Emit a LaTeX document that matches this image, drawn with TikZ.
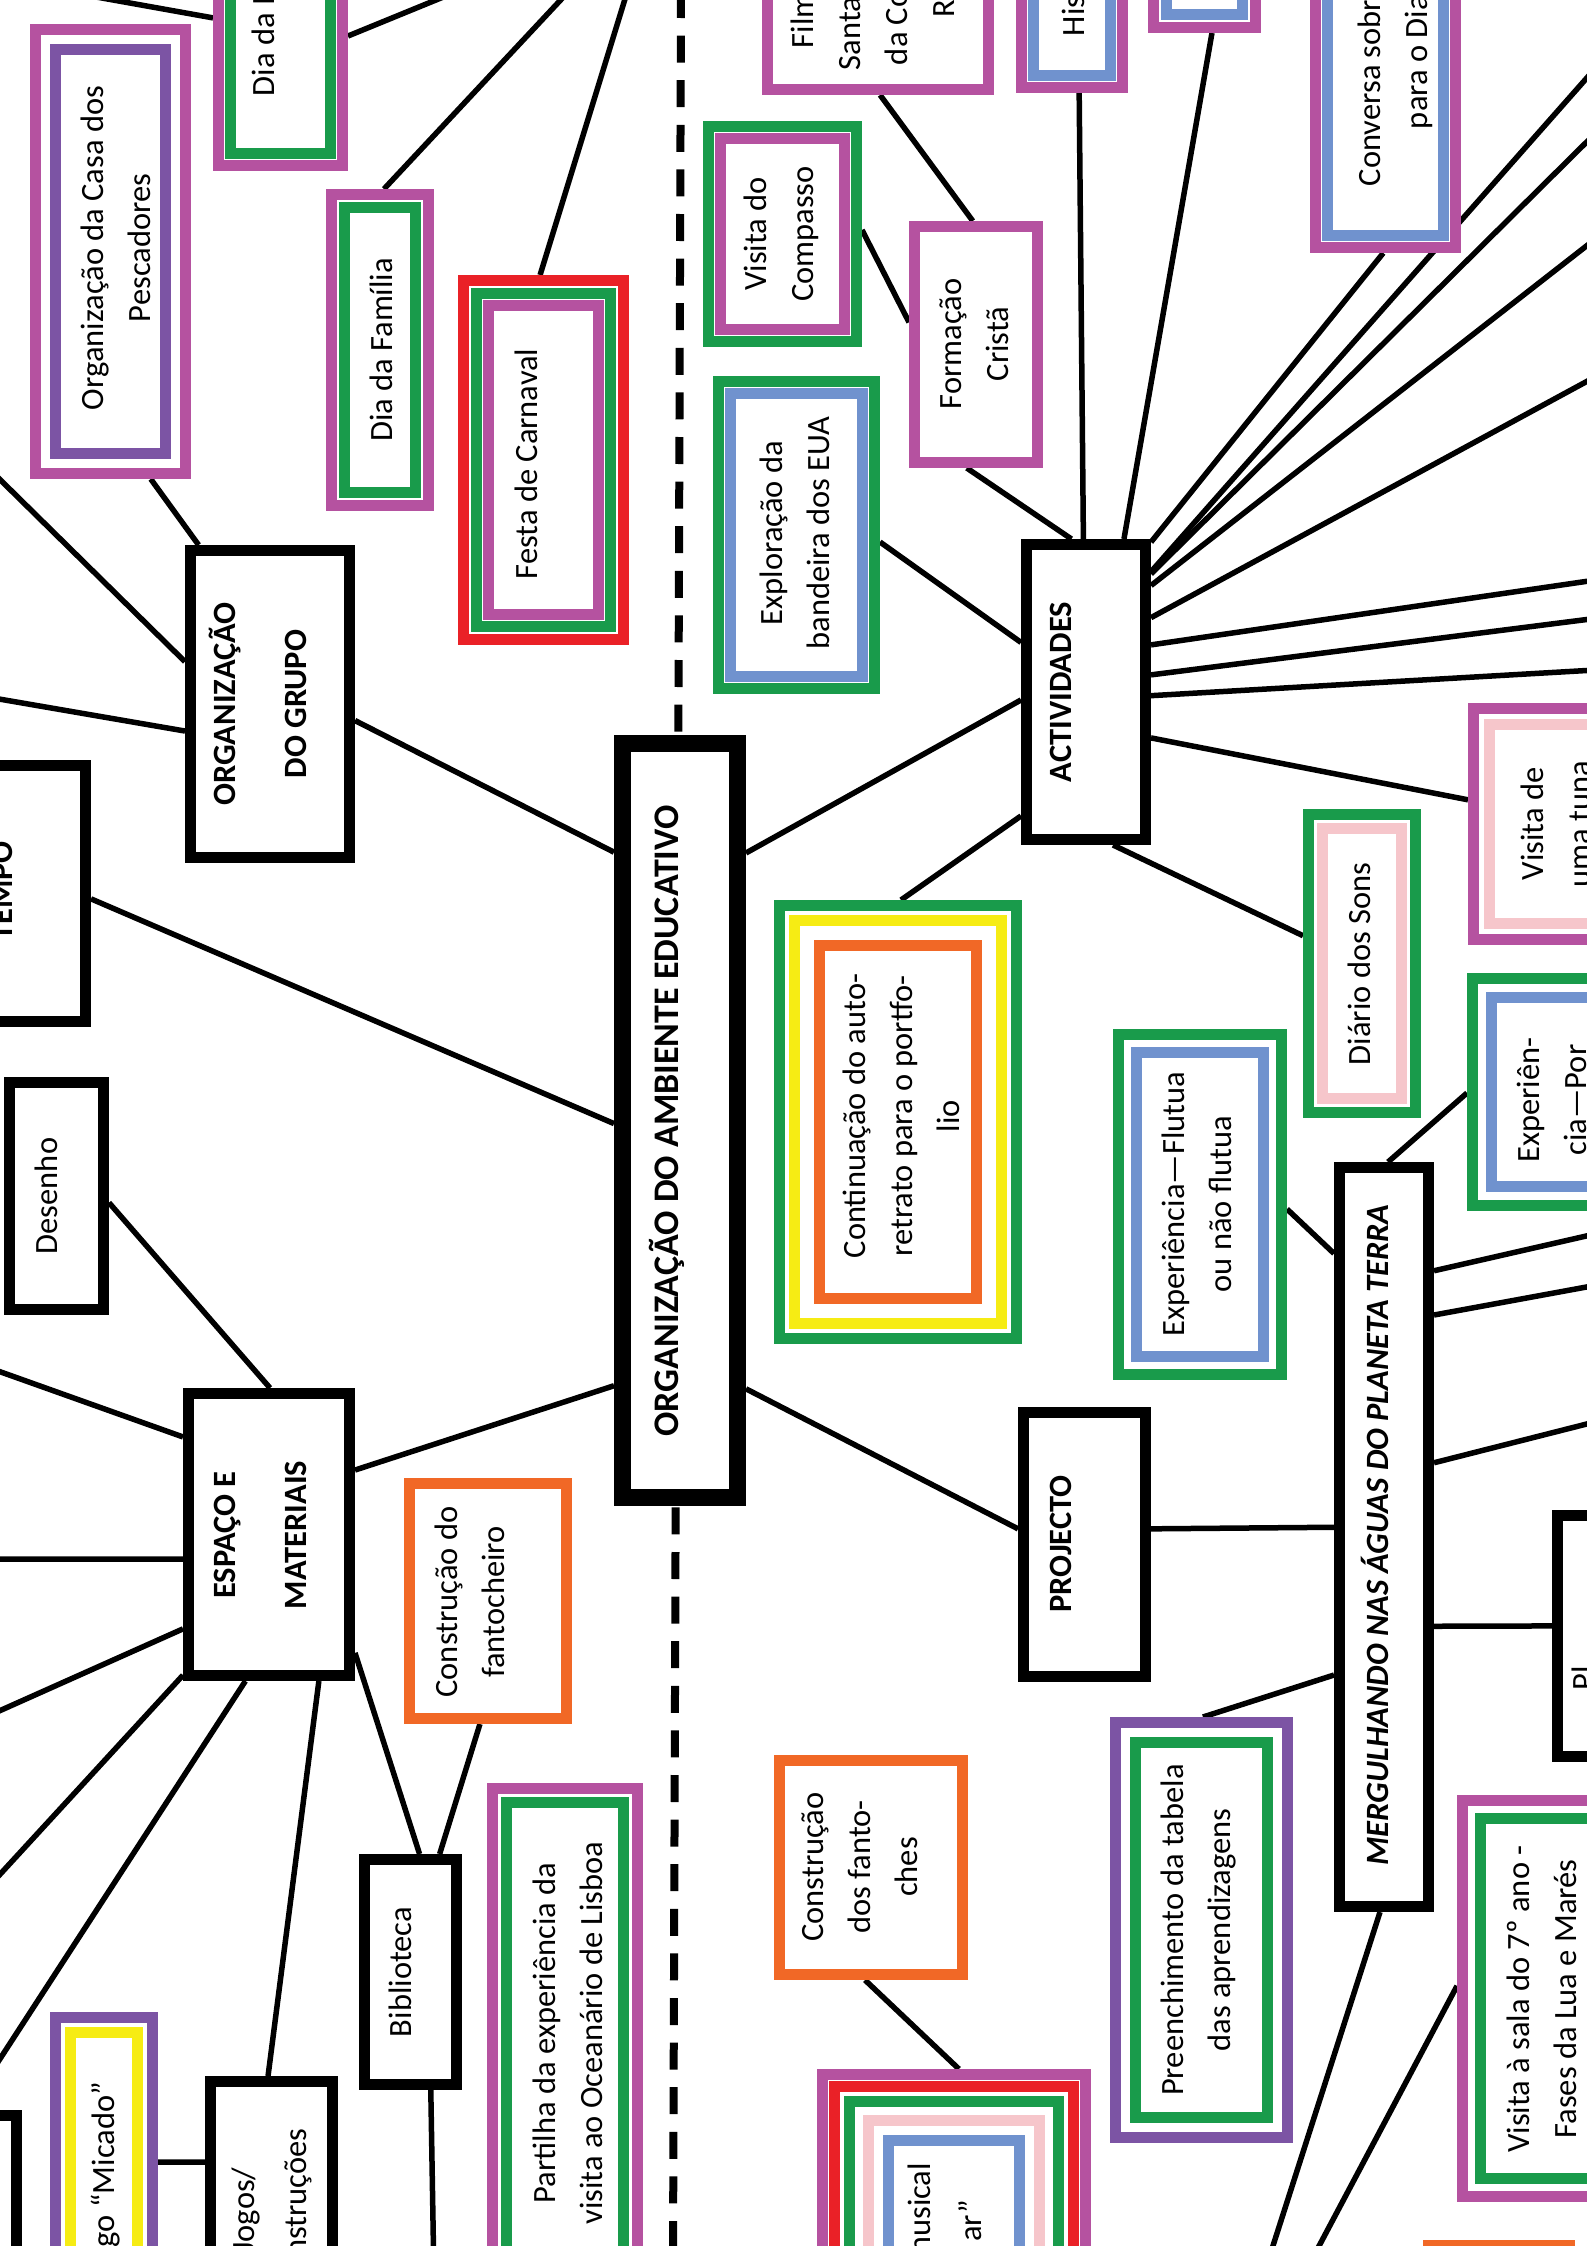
\documentclass[tikz,border=0pt]{standalone}
\usepackage{fontspec}
\setmainfont{Carlito}
\usepackage{graphicx}
\usetikzlibrary{calc}
\definecolor{cmag}{RGB}{181,82,160}
\definecolor{cpur}{RGB}{124,84,164}
\definecolor{cgrn}{RGB}{25,155,75}
\definecolor{cblu}{RGB}{112,146,206}
\definecolor{cpnk}{RGB}{246,198,203}
\definecolor{corg}{RGB}{241,104,38}
\definecolor{cred}{RGB}{234,33,39}
\definecolor{cyel}{RGB}{246,236,20}
\pgfdeclarelayer{bg}
\pgfsetlayers{bg,main}
\tikzset{
  frm/.style={rectangle, draw=none, fill=white, inner sep=0pt, outer sep=0pt},
  lbl/.style={inner sep=0pt, outer sep=0pt, font=\fontsize{32.5}{47}\selectfont},
  lblb/.style={lbl, font=\fontsize{32.5}{47}\selectfont\bfseries},
  lblbi/.style={lbl, font=\fontsize{32.5}{47}\selectfont\bfseries\itshape},
  lblc/.style={lbl, font=\fontsize{36}{47}\selectfont\bfseries},
  conn/.style={draw=black, line width=5.5pt},
  divider/.style={draw=black, line width=8pt, dash pattern=on 27pt off 17.6pt},
}
\newcommand{\RT}[1]{\rotatebox{90}{\begin{tabular}{@{}c@{}}#1\end{tabular}}}
\newcommand{\RTL}[1]{\rotatebox{90}{\begin{tabular}{@{}l@{}}#1\end{tabular}}}
\newcommand{\RTR}[1]{\rotatebox{90}{\begin{tabular}{@{}r@{}}#1\end{tabular}}}
\newcommand{\Frame}[5]{\node[frm, minimum width={(#4)-(#2)}, minimum height={(#5)-(#3)}] (#1) at ({((#2)+(#4))/2},{((#3)+(#5))/2}) {};}
\newcommand{\Ring}[4]{\draw[draw=#2, line width=#4pt] ([xshift={(#3)+(#4)/2}, yshift={-(#3)-(#4)/2}]#1.north west) rectangle ([xshift={-(#3)-(#4)/2}, yshift={(#3)+(#4)/2}]#1.south east);}
\begin{document}
\begin{tikzpicture}[x=1pt, y=-1pt]
\useasboundingbox (0,0) rectangle (1587,2246);
\clip (0,0) rectangle (1587,2246);

% ---------- frames, left half
\Frame{casa}{30}{24}{191}{479}\Ring{casa}{cmag}{0}{11}\Ring{casa}{cpur}{20}{11}
\Frame{diaM}{213}{-131}{348}{171}\Ring{diaM}{cmag}{0}{11}\Ring{diaM}{cgrn}{12}{11}
\Frame{diaF}{326}{189}{434}{511}\Ring{diaF}{cmag}{0}{11}\Ring{diaF}{cgrn}{13}{11}
\Frame{festa}{458}{275}{629}{645}\Ring{festa}{cred}{0}{11}\Ring{festa}{cgrn}{13}{11}\Ring{festa}{cmag}{25}{11}
\Frame{orggrupo}{185}{545}{355}{863}\Ring{orggrupo}{black}{0}{11}
\Frame{tempo}{-82}{760}{91}{1027}\Ring{tempo}{black}{0}{11}
\Frame{desenho}{4}{1077}{109}{1315}\Ring{desenho}{black}{0}{11}
\Frame{espaco}{183}{1388}{355}{1681}\Ring{espaco}{black}{0}{11}
\Frame{fantocheiro}{404}{1478}{572}{1724}\Ring{fantocheiro}{corg}{0}{11}
\Frame{biblioteca}{359}{1854}{462}{2090}\Ring{biblioteca}{black}{0}{11}
\Frame{partilha}{487}{1783}{643}{2283}\Ring{partilha}{cmag}{0}{11}\Ring{partilha}{cgrn}{14}{11}
\Frame{micado}{50}{2012}{158}{2344}\Ring{micado}{cpur}{0}{11}\Ring{micado}{cyel}{15}{11}
\Frame{jogos}{205}{2076}{338}{2344}\Ring{jogos}{black}{0}{11}
\Frame{leftbox}{-100}{2110}{22}{2400}\Ring{leftbox}{black}{0}{11}
\Frame{center}{614}{735}{746}{1506}\Ring{center}{black}{0}{17}

% ---------- frames, right half
\Frame{film}{762}{-150}{994}{95}\Ring{film}{cmag}{0}{11}
\Frame{his}{1016}{-100}{1128}{93}\Ring{his}{cmag}{0}{11}\Ring{his}{cblu}{12}{11}
\Frame{box3}{1148}{-100}{1261}{33}\Ring{box3}{cmag}{0}{11}\Ring{box3}{cblu}{13}{11}
\Frame{conversa}{1310}{-150}{1461}{253}\Ring{conversa}{cmag}{0}{11}\Ring{conversa}{cblu}{12}{11}
\Frame{compasso}{703}{121}{862}{347}\Ring{compasso}{cgrn}{0}{11}\Ring{compasso}{cmag}{12}{11}
\Frame{formacao}{909}{221}{1043}{468}\Ring{formacao}{cmag}{0}{11}
\Frame{exploracao}{713}{376}{880}{694}\Ring{exploracao}{cgrn}{0}{11}\Ring{exploracao}{cblu}{12}{11}
\Frame{act}{1021}{539}{1151}{845}\Ring{act}{black}{0}{11}
\Frame{tuna}{1468}{703}{1660}{945}\Ring{tuna}{cmag}{0}{11}\Ring{tuna}{cpnk}{16}{11}
\Frame{diario}{1303}{809}{1421}{1118}\Ring{diario}{cgrn}{0}{11}\Ring{diario}{cpnk}{14}{11}
\Frame{continuacao}{774}{900}{1022}{1344}\Ring{continuacao}{cgrn}{0}{11}\Ring{continuacao}{cyel}{15}{11}\Ring{continuacao}{corg}{40}{11}
\Frame{flutua}{1113}{1029}{1287}{1380}\Ring{flutua}{cgrn}{0}{11}\Ring{flutua}{cblu}{18}{11}
\Frame{experien}{1467}{973}{1660}{1211}\Ring{experien}{cgrn}{0}{11}\Ring{experien}{cblu}{19}{11}
\Frame{merg}{1334}{1162}{1434}{1912}\Ring{merg}{black}{0}{11}
\Frame{projecto}{1018}{1407}{1151}{1682}\Ring{projecto}{black}{0}{11}
\Frame{pl}{1552}{1510}{1720}{1762}\Ring{pl}{black}{0}{11}
\Frame{preench}{1110}{1717}{1293}{2143}\Ring{preench}{cpur}{0}{11}\Ring{preench}{cgrn}{20}{11}
\Frame{fantoches}{774}{1755}{968}{1980}\Ring{fantoches}{corg}{0}{11}
\Frame{musical}{817}{2069}{1091}{2500}\Ring{musical}{cmag}{0}{11}\Ring{musical}{cred}{12}{11}\Ring{musical}{cgrn}{27}{11}\Ring{musical}{cpnk}{46}{11}\Ring{musical}{cblu}{66}{11}
\Frame{visita7}{1457}{1795}{1700}{2202}\Ring{visita7}{cmag}{0}{11}\Ring{visita7}{cgrn}{18}{11}
\Frame{orangebr}{1423}{2240}{1575}{2400}\Ring{orangebr}{corg}{0}{11}

% ---------- texts
\node[lbl] (casa-t) at (118,248) {\RT{Organização da Casa dos\\Pescadores}};
\node[lbl, anchor=south] (diaM-t) at (265.5,96) {\RTL{Dia da M}};
\node[lbl] (diaF-t) at (383,350) {\RT{Dia da Família}};
\node[lbl] (festa-t) at (528,464) {\RT{Festa de Carnaval}};
\node[lblb] (orggrupo-t) at (262,704) {\RT{ORGANIZAÇÃO\\[24pt]DO GRUPO}};
\node[lblb] (tempo-t) at (3,891) {\RT{TEMPO}};
\node[lbl] (desenho-t) at (48,1196) {\RT{Desenho}};
\node[lblb] (espaco-t) at (262,1535) {\RT{ESPAÇO E\\[24pt]MATERIAIS}};
\node[lbl] (fantocheiro-t) at (472,1602) {\RT{Construção do\\fantocheiro}};
\node[lbl] (biblioteca-t) at (402,1972) {\RT{Biblioteca}};
\node[lbl] (partilha-t) at (570,2033) {\RT{Partilha da experiência da\\visita ao Oceanário de Lisboa}};
\node[lbl, anchor=north] (micado-t) at (105,2082) {\RTR{Jogo “Micado”}};
\node[lbl] (jogos-t) at (271,2210) {\RT{Jogos/\\[5pt]Construções}};
\node[lblc] (center-t) at (669,1121) {\RT{ORGANIZAÇÃO DO AMBIENTE EDUCATIVO}};

\node[lbl, anchor=south] (film-t) at (875,70) {\RTL{\hspace*{22pt}Film\\Santa\\ \hspace*{5pt}da Co\\ \hspace*{53pt}R}};
\node[lbl, anchor=south] (his-t) at (1075,36) {\RTL{His}};
\node[lbl, anchor=south] (conversa-t) at (1395,186) {\RTL{Conversa sobre\\ \hspace*{57pt}para o Dia}};
\node[lbl] (compasso-t) at (781,234) {\RT{Visita do\\Compasso}};
\node[lbl] (formacao-t) at (976,344) {\RT{Formação\\Cristã}};
\node[lbl] (exploracao-t) at (797,533) {\RT{Exploração da\\bandeira dos EUA}};
\node[lblb] (act-t) at (1062,692) {\RT{ACTIVIDADES}};
\node[lbl] (tuna-t) at (1558,824) {\RT{Visita de\\uma tuna}};
\node[lbl] (diario-t) at (1361,964) {\RT{Diário dos Sons}};
\node[lbl] (continuacao-t) at (903,1116) {\RT{Continuação do auto-\\retrato para o portfo-\\lio}};
\node[lbl] (flutua-t) at (1199,1204) {\RT{Experiência—Flutua\\ou não flutua}};
\node[lbl] (experien-t) at (1554,1100) {\RT{Experiên-\\cia—Por}};
\node[lblbi] (merg-t) at (1379,1535) {\RT{MERGULHANDO NAS ÁGUAS DO PLANETA TERRA}};
\node[lblb] (projecto-t) at (1062,1544) {\RT{PROJECTO}};
\node[lbl, anchor=south] (pl-t) at (1585,1690) {\RTL{Pl}};
\node[lbl] (preench-t) at (1198,1930) {\RT{Preenchimento da tabela\\das aprendizagens}};
\node[lbl] (fantoches-t) at (861,1867) {\RT{Construção\\dos fanto-\\ches}};
\node[lbl, anchor=north] (musical-t) at (947,2163) {\RTR{musical\\[4pt]ar”\hspace*{37pt}}};
\node[lbl] (visita7-t) at (1544,1999) {\RT{Visita à sala do 7º ano -\\Fases da Lua e Marés}};

% ---------- off-page ends
\coordinate (divtop) at (681,-9);
\coordinate (divbot) at (673,2260);
\coordinate (o1) at (60,-9.5);
\coordinate (o2) at (480,-18);
\coordinate (o3) at (598,-40);
\coordinate (o4) at (637,-40);
\coordinate (o6) at (-30,450);
\coordinate (o7) at (-30,694);
\coordinate (o11) at (-30,1361);
\coordinate (o13) at (-30,1559);
\coordinate (o14) at (-30,1724);
\coordinate (o15) at (-30,1907);
\coordinate (o16) at (-30,2105);
\coordinate (o20) at (434,2280);
\coordinate (o30) at (1630,29);
\coordinate (o31) at (1630,99);
\coordinate (o32) at (1630,212);
\coordinate (o33) at (1630,358);
\coordinate (o34) at (1630,575);
\coordinate (o35) at (1630,614);
\coordinate (o36) at (1630,668);
\coordinate (o44) at (1630,1226);
\coordinate (o45) at (1630,1279);
\coordinate (o46) at (1630,1413);
\coordinate (o49) at (1262,2280);
\coordinate (o50) at (1301,2280);

% ---------- connectors (behind the boxes)
\begin{pgfonlayer}{bg}
\clip (0,0) rectangle (1587,2246);
\draw[divider] (divtop) -- (divbot);
\draw[conn] (o1) -- ($(diaM.north west)!0.493!(diaM.south west)$);
\draw[conn] ($(diaM.north east)!0.553!(diaM.south east)$) -- (o2);
\draw[conn] ($(diaF.north west)!0.537!(diaF.north east)$) -- (o3);
\draw[conn] ($(festa.north west)!0.48!(festa.north east)$) -- (o4);
\draw[conn] ($(casa.south west)!0.75!(casa.south east)$) -- ($(orggrupo.north west)!0.08!(orggrupo.north east)$);
\draw[conn] (o6) -- ($(orggrupo.north west)!0.367!(orggrupo.south west)$);
\draw[conn] (o7) -- ($(orggrupo.north west)!0.585!(orggrupo.south west)$);
\draw[conn] ($(orggrupo.north east)!0.552!(orggrupo.south east)$) -- ($(center.north west)!0.152!(center.south west)$);
\draw[conn] ($(tempo.north east)!0.52!(tempo.south east)$) -- ($(center.north west)!0.504!(center.south west)$);
\draw[conn] ($(desenho.north east)!0.528!(desenho.south east)$) -- ($(espaco.north west)!0.506!(espaco.north east)$);
\draw[conn] (o11) -- ($(espaco.north west)!0.167!(espaco.south west)$);
\draw[conn] ($(espaco.north east)!0.28!(espaco.south east)$) -- ($(center.north west)!0.844!(center.south west)$);
\draw[conn] ($(espaco.north west)!0.584!(espaco.south west)$) -- (o13);
\draw[conn] ($(espaco.north west)!0.822!(espaco.south west)$) -- (o14);
\draw[conn] ($(espaco.north west)!0.98!(espaco.south west)$) -- (o15);
\draw[conn] ($(espaco.south west)!0.363!(espaco.south east)$) -- (o16);
\draw[conn] ($(espaco.south west)!0.79!(espaco.south east)$) -- ($(jogos.north west)!0.474!(jogos.north east)$);
\draw[conn] ($(espaco.north east)!0.904!(espaco.south east)$) -- ($(biblioteca.north west)!0.588!(biblioteca.north east)$);
\draw[conn] ($(fantocheiro.south west)!0.452!(fantocheiro.south east)$) -- ($(biblioteca.north west)!0.783!(biblioteca.north east)$);
\draw[conn] ($(biblioteca.south west)!0.697!(biblioteca.south east)$) -- (o20);
\draw[conn] ($(micado.north east)!0.452!(micado.south east)$) -- ($(jogos.north west)!0.321!(jogos.south west)$);

\draw[conn] ($(film.south west)!0.509!(film.south east)$) -- ($(formacao.north west)!0.476!(formacao.north east)$);
\draw[conn] ($(compasso.north east)!0.482!(compasso.south east)$) -- ($(formacao.north west)!0.41!(formacao.south west)$);
\draw[conn] ($(formacao.south west)!0.431!(formacao.south east)$) -- ($(act.north west)!0.388!(act.north east)$);
\draw[conn] ($(his.south west)!0.564!(his.south east)$) -- ($(act.north west)!0.48!(act.north east)$);
\draw[conn] ($(box3.south west)!0.566!(box3.south east)$) -- ($(act.north west)!0.792!(act.north east)$);
\draw[conn] ($(exploracao.north east)!0.522!(exploracao.south east)$) -- ($(act.north west)!0.338!(act.south west)$);
\draw[conn] ($(act.north west)!0.526!(act.south west)$) -- ($(center.north east)!0.153!(center.south east)$);
\draw[conn] ($(act.north east)!0.01!(act.south east)$) -- ($(conversa.south west)!0.485!(conversa.south east)$);
\draw[conn] ($(act.north east)!0.107!(act.south east)$) -- (o30);
\draw[conn] ($(act.north east)!0.114!(act.south east)$) -- (o31);
\draw[conn] ($(act.north east)!0.152!(act.south east)$) -- (o32);
\draw[conn] ($(act.north east)!0.257!(act.south east)$) -- (o33);
\draw[conn] ($(act.north east)!0.346!(act.south east)$) -- (o34);
\draw[conn] ($(act.north east)!0.444!(act.south east)$) -- (o35);
\draw[conn] ($(act.north east)!0.512!(act.south east)$) -- (o36);
\draw[conn] ($(act.north east)!0.65!(act.south east)$) -- ($(tuna.north west)!0.40!(tuna.south west)$);
\draw[conn] ($(act.south west)!0.708!(act.south east)$) -- ($(diario.north west)!0.41!(diario.south west)$);
\draw[conn] ($(act.north west)!0.905!(act.south west)$) -- ($(continuacao.north west)!0.512!(continuacao.north east)$);
\draw[conn] ($(center.north east)!0.848!(center.south east)$) -- ($(projecto.north west)!0.443!(projecto.south west)$);
\draw[conn] ($(projecto.north east)!0.443!(projecto.south east)$) -- ($(merg.north west)!0.487!(merg.south west)$);
\draw[conn] ($(flutua.north east)!0.513!(flutua.south east)$) -- ($(merg.north west)!0.122!(merg.south west)$);
\draw[conn] ($(merg.north west)!0.54!(merg.north east)$) -- ($(experien.north west)!0.504!(experien.south west)$);
\draw[conn] ($(merg.north east)!0.145!(merg.south east)$) -- (o44);
\draw[conn] ($(merg.north east)!0.204!(merg.south east)$) -- (o45);
\draw[conn] ($(merg.north east)!0.401!(merg.south east)$) -- (o46);
\draw[conn] ($(merg.north east)!0.619!(merg.south east)$) -- ($(pl.north west)!0.46!(pl.south west)$);
\draw[conn] ($(merg.north west)!0.684!(merg.south west)$) -- ($(preench.north west)!0.508!(preench.north east)$);
\draw[conn] ($(merg.south west)!0.46!(merg.south east)$) -- (o49);
\draw[conn] ($(visita7.north west)!0.469!(visita7.south west)$) -- (o50);
\draw[conn] ($(fantoches.south west)!0.469!(fantoches.south east)$) -- ($(musical.north west)!0.518!(musical.north east)$);
\end{pgfonlayer}
\end{tikzpicture}
\end{document}
